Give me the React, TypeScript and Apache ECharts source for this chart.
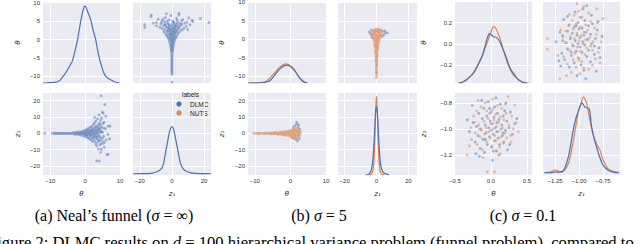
import React, { useEffect, useRef } from 'react';
import * as echarts from 'echarts';

const BLUE = '#4C72B0';
const ORANGE = '#DD8452';
const BG = '#EAEAF2';
const SANS = 'Liberation Sans, Arial, sans-serif';
const SERIF = 'Liberation Serif, Times New Roman, serif';
const TICK = '#333333';

// ---------- (a) Neal's funnel (sigma = inf) ----------
const kdeA_thetaX = [-12.1, -10, -8.5, -7.5, -6.9, -6.0, -5.1, -4.3, -3.6, -2.9, -2.2, -1.7, -1.2, -0.7, -0.3, 0.0, 0.3, 0.8, 1.6, 2.3, 3.06, 3.5, 4.0, 4.7, 5.4, 6.2, 7.3, 8.4, 9.8];
const kdeA_thetaD = [0.0, 0.004, 0.01, 0.025, 0.05, 0.1, 0.16, 0.22, 0.28, 0.4, 0.53, 0.66, 0.78, 0.88, 0.94, 0.95, 0.93, 0.87, 0.78, 0.65, 0.53, 0.42, 0.32, 0.21, 0.12, 0.07, 0.04, 0.015, 0.0];
const kdeA_zX = [-24.1, -18, -13, -9.3, -7.5, -6.2, -5.1, -4.1, -3.0, -2.1, -1.0, 0, 1.0, 2.0, 3.0, 4.1, 5.2, 6.2, 7.2, 9, 11.3, 15, 20, 24.3];
const kdeA_zD = [0.015, 0.016, 0.02, 0.04, 0.06, 0.085, 0.15, 0.26, 0.37, 0.47, 0.56, 0.59, 0.56, 0.47, 0.37, 0.26, 0.15, 0.1, 0.07, 0.045, 0.03, 0.02, 0.016, 0.015];
// [theta, z1]
const funnelDLMC: [number, number][] = [
  [-11.6, 0.0], [-9.4, 0.0], [-9.0, 0.01], [-8.7, -0.01], [-8.4, 0.02], [-8.1, -0.02], [-7.8, 0.01], [-7.5, -0.03],
  [-7.2, 0.03], [-6.9, -0.02], [-6.6, 0.04], [-6.3, -0.05], [-6.0, 0.05], [-5.7, -0.06], [-5.4, 0.07], [-5.1, -0.08],
  [-4.8, 0.1], [-4.5, -0.1], [-4.2, 0.12], [-3.9, -0.15], [-3.6, 0.18], [-3.4, 0.3], [-3.3, -0.2], [-3.2, -0.4],
  [-3.1, 0.1], [-3.0, 0.25], [-2.9, -0.2], [-2.8, -0.3], [-2.7, 0.5], [-2.6, 0.35], [-2.5, -0.6], [-2.4, 0.2],
  [-2.2, 0.8], [-2.1, -0.3], [-1.9, 0.6], [-1.8, -0.9], [-1.7, 0.1], [-1.5, 1.0], [-1.4, -0.5], [-1.3, 0.4],
  [-1.1, -1.2], [-1.0, 0.9], [-0.9, -0.1], [-0.8, 1.3], [-0.7, -0.8], [-0.6, 0.3], [-0.5, -1.5], [-0.4, 1.1],
  [-0.3, -0.4], [-0.2, 1.7], [-0.1, -1.0], [0.0, 0.5], [0.05, -1.9], [0.1, 1.4], [0.2, -0.2], [0.25, 2.1],
  [0.3, -1.3], [0.4, 0.8], [0.45, -2.4], [0.5, 1.9], [0.6, -0.7], [0.65, 2.6], [0.7, 0.1], [0.8, -1.8],
  [0.85, 1.2], [0.9, -2.9], [1.0, 0.6], [1.05, 3.1], [1.1, -0.9], [1.2, 2.0], [1.25, -3.4], [1.3, 0.0],
  [1.4, 1.6], [1.45, -2.1], [1.5, 3.7], [1.6, -1.1], [1.65, 0.9], [1.7, -4.0], [1.8, 2.6], [1.85, -0.4],
  [1.9, 4.4], [2.0, -2.7], [2.05, 1.3], [2.1, -5.0], [2.2, 3.3], [2.25, -1.5], [2.3, 0.5], [2.4, 5.3],
  [2.45, -3.6], [2.5, 2.0], [2.6, -0.8], [2.65, 6.4], [2.7, 9.8], [2.75, -4.8], [2.8, 1.0], [2.9, 3.9],
  [2.95, -2.3], [3.0, -6.3], [3.1, 7.5], [3.15, 0.2], [3.2, -3.1], [3.3, -16.9], [3.3, 4.8], [3.35, -7.6],
  [3.4, 2.4], [3.5, -1.4], [3.55, 8.9], [3.6, -5.4], [3.7, 3.2], [3.75, -9.6], [3.8, 0.7], [3.9, 6.0],
  [3.95, -3.9], [4.0, 11.2], [4.05, -17.0], [4.1, 1.8], [4.2, -7.0], [4.25, 5.0], [4.3, -1.9], [4.4, 7.9],
  [4.45, -11.6], [4.5, 3.0], [4.6, 23.0], [4.65, -9.7], [4.7, 9.3], [4.8, -4.6], [4.9, 13.0], [5.0, 0.5],
  [5.1, -6.2], [5.2, 12.5], [5.3, -1.8], [5.4, 6.8], [5.5, -8.5], [5.7, 17.7], [5.8, 2.9], [5.9, 10.5],
  [6.0, -4.0], [6.2, -13.0], [6.5, -0.6], [6.6, 4.3], [6.6, -12.8], [7.0, -3.4], [7.1, 4.4],
  [-0.8, 0.2], [-0.5, 0.6], [-0.2, -0.3], [0.1, 0.9], [0.3, 0.4], [0.5, -1.0], [0.7, 1.5], [0.9, 0.2],
  [1.1, -0.4], [1.2, 1.0], [1.4, -1.2], [1.5, 0.3], [1.7, 1.8], [1.8, -0.8], [2.0, 0.9], [2.1, 2.2],
  [2.2, -0.2], [2.3, -2.6], [2.4, 1.4], [2.5, -1.3], [2.6, 3.0], [2.7, 0.3], [2.8, -1.9], [2.9, 2.0],
  [3.0, -0.5], [3.1, 1.6], [3.2, 3.6], [3.3, -2.2], [3.4, 0.9], [3.5, -3.6], [3.6, 2.0], [3.7, -0.6],
  [3.8, 4.2], [3.9, -1.8], [4.0, 2.6], [4.1, -4.6], [4.2, 0.4], [4.3, 5.9], [4.4, -2.9], [4.5, 1.2],
  [4.6, -6.4], [4.7, 4.0], [4.8, 0.9], [5.0, -2.9], [5.1, 6.0], [5.3, 3.1], [5.5, -5.5], [-1.6, -0.4],
  [-1.2, 0.3], [-2.0, 0.1],
];

// ---------- (b) sigma = 5 ----------
const kdeB_thetaX_D = [-11.9, -9, -7.5, -6.6, -5.6, -4.7, -3.8, -2.8, -1.9, -1.1, -0.2, 0.6, 1.4, 2.1, 2.8, 3.5, 4.2, 4.8];
const kdeB_thetaD_D = [0.0, 0.002, 0.006, 0.012, 0.035, 0.08, 0.13, 0.18, 0.208, 0.22, 0.21, 0.18, 0.14, 0.095, 0.055, 0.025, 0.008, 0.0];
const kdeB_thetaX_N = [-11.9, -9, -7.5, -6.5, -5.6, -4.5, -3.3, -2.4, -1.4, -0.4, 0.4, 0.9, 1.6, 2.3, 3.0, 3.8, 4.4];
const kdeB_thetaD_N = [0.0, 0.003, 0.01, 0.03, 0.07, 0.12, 0.18, 0.215, 0.235, 0.225, 0.2, 0.18, 0.13, 0.08, 0.04, 0.01, 0.0];
const kdeB_zX_D = [-7, -5, -4, -3, -2.2, -1.5, -1, -0.5, 0, 0.5, 1, 1.5, 2.2, 3, 4, 5, 6.5, 8];
const kdeB_zD_D = [0.0, 0.01, 0.03, 0.08, 0.2, 0.4, 0.6, 0.78, 0.83, 0.78, 0.6, 0.4, 0.2, 0.09, 0.04, 0.02, 0.01, 0.0];
const kdeB_zX_N = [-5, -3.5, -2.5, -1.8, -1.2, -0.7, -0.3, 0, 0.3, 0.7, 1.2, 1.8, 2.5, 3.5, 5];
const kdeB_zD_N = [0.0, 0.01, 0.04, 0.12, 0.35, 0.65, 0.88, 0.96, 0.88, 0.65, 0.35, 0.12, 0.04, 0.01, 0.0];
const sigma5NUTS: [number, number][] = [
  [-10.4, 0.0], [-9.9, 0.02], [-9.3, -0.03], [-8.8, 0.04], [-8.4, -0.04], [-8.0, 0.06], [-7.6, -0.07], [-7.3, 0.08],
  [-7.0, -0.1], [-6.7, 0.12], [-6.4, -0.12], [-6.1, 0.15], [-5.9, -0.18], [-5.6, 0.2], [-5.4, -0.22], [-5.1, 0.25],
  [-4.9, -0.28], [-4.6, 0.3], [-4.4, -0.35], [-4.2, 0.38], [-4.0, -0.1], [-3.8, 0.45], [-3.6, -0.5], [-3.4, 0.2],
  [-3.2, -0.6], [-3.0, 0.65], [-2.9, -0.2], [-2.7, 0.4], [-2.5, -0.8], [-2.4, 0.9], [-2.2, -0.4], [-2.1, 0.1],
  [-1.9, 1.0], [-1.8, -1.0], [-1.6, 0.5], [-1.5, -0.3], [-1.3, 1.2], [-1.2, -1.3], [-1.0, 0.2], [-0.9, 1.4],
  [-0.8, -0.7], [-0.6, 0.8], [-0.5, -1.6], [-0.4, 1.6], [-0.2, -0.1], [-0.1, -1.1], [0.0, 1.9], [0.1, 0.6],
  [0.2, -2.0], [0.3, 1.0], [0.4, -0.6], [0.5, 2.3], [0.6, -2.4], [0.7, 0.3], [0.8, 1.5], [0.9, -1.4],
  [1.0, 2.8], [1.1, -0.2], [1.2, -2.9], [1.3, 1.1], [1.4, 3.2], [1.5, -1.8], [1.6, 0.6], [1.7, 2.2],
  [1.8, -3.3], [1.9, -0.6], [2.0, 3.6], [2.1, 1.4], [2.2, -2.3], [2.3, 0.2], [2.4, 2.7], [2.5, -1.2],
  [2.6, 1.5], [2.7, -0.3], [-1.1, 0.7], [-0.3, 0.4], [0.35, -1.0], [0.75, -0.3], [1.15, 0.5], [1.55, 1.7],
  [-1.7, 0.2], [-1.4, -0.6], [-0.7, 0.0], [-0.3, -0.5], [0.0, 0.3], [0.2, 0.8], [0.4, -1.4], [0.6, 1.2],
  [0.8, -0.4], [1.0, 0.4], [1.2, 1.9], [1.4, -0.8], [1.6, -2.6], [1.8, 1.2], [2.0, -1.3], [2.2, 0.7],
  [-2.3, 0.3], [-2.0, -0.5], [1.3, -1.1], [0.9, 2.0],
];
const sigma5DLMC: [number, number][] = [
  [-9.0, 0.0], [-7.0, 0.05], [-5.5, -0.15], [-4.5, 0.2], [-3.5, -0.3], [-2.5, 0.5], [-1.5, -0.8], [-0.5, 1.0],
  [0.3, -1.5], [0.8, 3.5], [1.0, -3.0], [1.2, 4.5], [1.4, -2.2], [1.5, -3.8], [1.7, 5.6], [1.8, 6.8],
  [1.9, 1.8], [2.0, -4.5], [2.2, 3.8], [2.3, 5.2], [2.4, -1.6], [2.5, -3.2], [2.6, 2.5], [2.7, 0.8],
  [0.5, -2.8], [1.1, 2.0], [2.1, -0.5],
];

// ---------- (c) sigma = 0.1 ----------
const kdeC_thetaX_D = [-0.45, -0.41, -0.35, -0.30, -0.25, -0.19, -0.13, -0.09, -0.06, -0.02, 0.01, 0.04, 0.07, 0.10, 0.14, 0.17, 0.21, 0.24, 0.28, 0.33, 0.38, 0.45, 0.50];
const kdeC_thetaD_D = [0.0, 0.005, 0.03, 0.07, 0.12, 0.21, 0.32, 0.43, 0.53, 0.61, 0.59, 0.57, 0.565, 0.54, 0.48, 0.41, 0.32, 0.24, 0.16, 0.1, 0.04, 0.005, 0.0];
const kdeC_thetaX_N = [-0.45, -0.40, -0.36, -0.32, -0.28, -0.24, -0.19, -0.13, -0.08, -0.04, 0.0, 0.04, 0.07, 0.10, 0.14, 0.17, 0.21, 0.25, 0.30, 0.36, 0.42, 0.47, 0.52];
const kdeC_thetaD_N = [0.0, 0.01, 0.03, 0.06, 0.085, 0.12, 0.2, 0.31, 0.43, 0.53, 0.63, 0.70, 0.67, 0.61, 0.51, 0.41, 0.3, 0.2, 0.11, 0.06, 0.02, 0.005, 0.0];
const kdeC_zX_D = [-1.36, -1.30, -1.25, -1.20, -1.16, -1.13, -1.10, -1.06, -1.03, -1.01, -0.985, -0.97, -0.95, -0.93, -0.91, -0.89, -0.87, -0.845, -0.82, -0.785, -0.75, -0.70, -0.66, -0.62, -0.59];
const kdeC_zD_D = [0.03, 0.03, 0.035, 0.035, 0.06, 0.14, 0.28, 0.55, 0.7, 0.77, 0.85, 0.88, 0.85, 0.82, 0.82, 0.79, 0.6, 0.46, 0.35, 0.22, 0.12, 0.06, 0.04, 0.03, 0.03];
const kdeC_zX_N = [-1.36, -1.30, -1.27, -1.25, -1.22, -1.19, -1.15, -1.11, -1.07, -1.04, -1.01, -0.99, -0.955, -0.92, -0.90, -0.88, -0.85, -0.82, -0.80, -0.78, -0.755, -0.73, -0.70, -0.66, -0.62, -0.58];
const kdeC_zD_N = [0.03, 0.035, 0.05, 0.06, 0.05, 0.035, 0.06, 0.14, 0.35, 0.55, 0.75, 0.83, 0.95, 0.87, 0.75, 0.63, 0.48, 0.39, 0.34, 0.3, 0.2, 0.14, 0.08, 0.05, 0.04, 0.03];
const sigma01DLMC: [number, number][] = [
  [-0.30, -1.02], [-0.25, -0.95], [-0.22, -1.10], [-0.20, -0.98], [-0.18, -1.05], [-0.17, -0.88], [-0.15, -1.15], [-0.14, -1.00],
  [-0.12, -0.92], [-0.11, -1.08], [-0.10, -0.84], [-0.09, -1.18], [-0.08, -0.97], [-0.07, -1.03], [-0.06, -0.90], [-0.05, -1.12],
  [-0.04, -0.79], [-0.03, -0.99], [-0.02, -1.06], [-0.01, -0.94], [0.00, -1.01], [0.00, -0.87], [0.01, -1.14], [0.02, -1.24],
  [0.02, -0.96], [0.03, -1.04], [0.04, -0.91], [0.05, -1.09], [0.05, -0.83], [0.06, -0.99], [0.07, -1.17], [0.08, -0.95],
  [0.08, -1.02], [0.09, -0.88], [0.10, -1.07], [0.11, -0.93], [0.12, -1.12], [0.13, -0.81], [0.14, -1.00], [0.15, -0.97],
  [0.16, -1.05], [0.17, -0.90], [0.18, -1.10], [0.19, -0.86], [0.20, -1.01], [0.22, -0.94], [0.23, -1.16], [0.25, -0.99],
  [0.27, -0.87], [0.30, -1.04], [0.33, -0.96], [-0.26, -0.82], [-0.21, -1.19], [-0.13, -0.78], [0.07, -0.76], [0.26, -1.12],
  [-0.16, -1.21], [0.11, -1.20], [-0.02, -0.84], [0.21, -0.80], [0.36, -0.92], [-0.33, -0.93], [0.03, -1.17], [-0.08, -1.08],
  [0.17, -1.03],
];
const sigma01NUTS: [number, number][] = [
  [-0.33, -1.20], [-0.28, -0.99], [-0.27, -1.08], [-0.24, -0.90], [-0.22, -1.03], [-0.20, -0.86], [-0.19, -1.12], [-0.17, -0.97],
  [-0.15, -1.06], [-0.14, -0.83], [-0.13, -1.01], [-0.12, -1.16], [-0.10, -0.94], [-0.09, -1.04], [-0.08, -0.80], [-0.07, -0.99],
  [-0.06, -1.10], [-0.05, -1.33], [-0.04, -0.92], [-0.03, -1.02], [-0.02, -0.88], [-0.01, -1.07], [0.00, -0.96], [0.01, -1.13],
  [0.02, -0.85], [0.03, -1.00], [0.04, -0.93], [0.05, -1.33], [0.05, -1.05], [0.06, -0.89], [0.07, -1.09], [0.08, -0.98],
  [0.09, -0.82], [0.10, -1.02], [0.11, -0.95], [0.12, -1.14], [0.13, -0.91], [0.14, -1.06], [0.15, -0.84], [0.16, -0.99],
  [0.17, -1.11], [0.18, -0.93], [0.19, -1.03], [0.21, -0.88], [0.22, -1.07], [0.24, -0.75], [0.25, -0.97], [0.27, -1.05],
  [0.29, -0.90], [0.31, -1.00], [0.33, -0.815], [0.35, -0.95], [0.38, -1.02], [-0.30, -1.13], [-0.18, -0.78], [-0.11, -1.22],
  [0.02, -0.77], [0.13, -1.19], [0.20, -0.81], [-0.23, -0.95], [0.08, -1.17], [-0.06, -0.86], [0.28, -1.10], [-0.16, -1.00],
];

type Range = [number, number];
interface Kde { color: string; x: number[]; d: number[] }
interface Scat { name: string; color: string; pts: [number, number][] }
interface Group {
  cols: [Range, Range];
  thX: Range; thY: Range; zX: Range; zY: Range;
  step: { thX: number; thY: number; zX: number; zY: number };
  dec: { thX: number; thY: number; zX: number; zY: number };
  yNameGap: number;
  kdeTh: Kde[]; kdeZ: Kde[]; scat: Scat[];
}

const ROWS: Range[] = [[2, 83], [93, 175]];

const groups: Group[] = [
  {
    cols: [[43, 120], [133, 211]],
    thX: [-12.1, 10], thY: [-11.8, 10.2], zX: [-24.2, 24.3], zY: [-25.5, 24.7],
    step: { thX: 10, thY: 5, zX: 20, zY: 10 }, dec: { thX: 0, thY: 0, zX: 0, zY: 0 },
    yNameGap: 22,
    kdeTh: [{ color: BLUE, x: kdeA_thetaX, d: kdeA_thetaD }],
    kdeZ: [{ color: BLUE, x: kdeA_zX, d: kdeA_zD }],
    scat: [{ name: 'DLMC', color: BLUE, pts: funnelDLMC }],
  },
  {
    cols: [[248, 326], [338, 417]],
    thX: [-11.9, 10], thY: [-11.8, 10.1], zX: [-24.2, 25.5], zY: [-25.5, 24.7],
    step: { thX: 10, thY: 5, zX: 20, zY: 10 }, dec: { thX: 0, thY: 0, zX: 0, zY: 0 },
    yNameGap: 23,
    kdeTh: [{ color: ORANGE, x: kdeB_thetaX_N, d: kdeB_thetaD_N }, { color: BLUE, x: kdeB_thetaX_D, d: kdeB_thetaD_D }],
    kdeZ: [{ color: ORANGE, x: kdeB_zX_N, d: kdeB_zD_N }, { color: BLUE, x: kdeB_zX_D, d: kdeB_zD_D }],
    scat: [{ name: 'DLMC', color: BLUE, pts: sigma5DLMC }, { name: 'NUTS', color: ORANGE, pts: sigma5NUTS }],
  },
  {
    cols: [[455, 532], [543, 620]],
    thX: [-0.5, 0.57], thY: [-0.37, 0.395], zX: [-1.375, -0.573], zY: [-1.354, -0.723],
    step: { thX: 0.5, thY: 0.2, zX: 0.25, zY: 0.2 }, dec: { thX: 1, thY: 1, zX: 2, zY: 1 },
    yNameGap: 28,
    kdeTh: [{ color: ORANGE, x: kdeC_thetaX_N, d: kdeC_thetaD_N }, { color: BLUE, x: kdeC_thetaX_D, d: kdeC_thetaD_D }],
    kdeZ: [{ color: ORANGE, x: kdeC_zX_N, d: kdeC_zD_N }, { color: BLUE, x: kdeC_zX_D, d: kdeC_zD_D }],
    scat: [{ name: 'DLMC', color: BLUE, pts: sigma01DLMC }, { name: 'NUTS', color: ORANGE, pts: sigma01NUTS }],
  },
];

function fmt(step: number, dec: number) {
  return (v: number) => {
    const k = Math.round(v / step);
    if (Math.abs(v - k * step) > Math.abs(step) * 1e-4) return '';
    let s = (k * step).toFixed(dec);
    if (s.startsWith('-')) {
      if (/^-0(\.0+)?$/.test(s)) s = s.slice(1);
      else s = '\u2212' + s.slice(1);
    }
    return s;
  };
}

function buildOption() {
  const grid: any[] = [];
  const xAxis: any[] = [];
  const yAxis: any[] = [];
  const series: any[] = [];

  const addGrid = (l: number, r: number, t: number, b: number) => {
    grid.push({
      left: l, top: t, width: r - l, height: b - t, show: true,
      backgroundColor: BG, borderWidth: 0, borderColor: 'transparent',
      containLabel: false, outerBoundsMode: 'none',
    });
    return grid.length - 1;
  };
  const axis = (gi: number, range: Range, step: number, dec: number, showLabel: boolean, name?: string, nameGap?: number) => ({
    type: 'value', gridIndex: gi, min: range[0], max: range[1],
    minInterval: step, maxInterval: step, splitNumber: 3,
    axisLine: { show: false }, axisTick: { show: false },
    splitLine: { show: true, showMinLine: false, showMaxLine: false, lineStyle: { color: '#ffffff', width: 1 } },
    axisLabel: { show: showLabel, formatter: fmt(step, dec), fontSize: 6, color: TICK, fontFamily: SANS, margin: 3 },
    name: name || '', nameLocation: 'middle', nameGap: nameGap || 10,
    nameTextStyle: { fontSize: 7, color: '#262626', fontFamily: 'DejaVu Sans, sans-serif', fontStyle: 'italic' },
  });
  const density = (gi: number) => ({ type: 'value', gridIndex: gi, min: 0, max: 1, show: false });

  groups.forEach((g) => {
    const [c0, c1] = g.cols;
    // TL: theta diag
    const tl = addGrid(c0[0], c0[1], ROWS[0][0], ROWS[0][1]);
    xAxis.push(axis(tl, g.thX, g.step.thX, g.dec.thX, false));
    const tlx = xAxis.length - 1;
    yAxis.push(axis(tl, g.thY, g.step.thY, g.dec.thY, true, '\u03b8', g.yNameGap));
    yAxis.push(density(tl));
    const tlyd = yAxis.length - 1;
    g.kdeTh.forEach((k) => series.push({
      type: 'line', xAxisIndex: tlx, yAxisIndex: tlyd, data: k.x.map((v, i) => [v, k.d[i]]),
      symbol: 'none', smooth: 0.3, silent: true, lineStyle: { color: k.color, width: 1.2 }, itemStyle: { color: k.color },
    }));
    // TR: scatter (x = z1, y = theta)
    const tr = addGrid(c1[0], c1[1], ROWS[0][0], ROWS[0][1]);
    xAxis.push(axis(tr, g.zX, g.step.zX, g.dec.zX, false));
    const trx = xAxis.length - 1;
    yAxis.push(axis(tr, g.thY, g.step.thY, g.dec.thY, false));
    const try_ = yAxis.length - 1;
    g.scat.forEach((s) => series.push({
      type: 'scatter', name: s.name, xAxisIndex: trx, yAxisIndex: try_, data: s.pts.map((p) => [p[1], p[0]]),
      symbolSize: 3, silent: true, itemStyle: { color: s.color, opacity: 0.5, borderColor: '#ffffff', borderWidth: 0.3 },
    }));
    // BL: scatter (x = theta, y = z1)
    const bl = addGrid(c0[0], c0[1], ROWS[1][0], ROWS[1][1]);
    xAxis.push(axis(bl, g.thX, g.step.thX, g.dec.thX, true, '\u03b8', 15));
    const blx = xAxis.length - 1;
    yAxis.push(axis(bl, g.zY, g.step.zY, g.dec.zY, true, 'z\u2081', g.yNameGap));
    const bly = yAxis.length - 1;
    g.scat.forEach((s) => series.push({
      type: 'scatter', name: s.name, xAxisIndex: blx, yAxisIndex: bly, data: s.pts.map((p) => [p[0], p[1]]),
      symbolSize: 3, silent: true, itemStyle: { color: s.color, opacity: 0.5, borderColor: '#ffffff', borderWidth: 0.3 },
    }));
    // BR: z1 diag
    const br = addGrid(c1[0], c1[1], ROWS[1][0], ROWS[1][1]);
    xAxis.push(axis(br, g.zX, g.step.zX, g.dec.zX, true, 'z\u2081', 15));
    const brx = xAxis.length - 1;
    yAxis.push(axis(br, g.zY, g.step.zY, g.dec.zY, false));
    yAxis.push(density(br));
    const bryd = yAxis.length - 1;
    g.kdeZ.forEach((k) => series.push({
      type: 'line', xAxisIndex: brx, yAxisIndex: bryd, data: k.x.map((v, i) => [v, k.d[i]]),
      symbol: 'none', smooth: 0.3, silent: true, lineStyle: { color: k.color, width: 1.2 }, itemStyle: { color: k.color },
    }));
  });

  const capStyle = (text: string) => ({
    text, fontSize: 16, fontFamily: SERIF, fill: '#000', align: 'center', verticalAlign: 'middle',
    rich: { i: { fontSize: 16, fontFamily: SERIF, fontStyle: 'italic', fill: '#000' } },
  });

  const graphic: any[] = [
    // legend of (a)
    { type: 'text', left: 182, top: 91, style: { text: 'labels', fontSize: 6.5, fontFamily: SANS, fill: '#262626' } },
    { type: 'circle', shape: { cx: 179, cy: 104, r: 2.6 }, style: { fill: BLUE } },
    { type: 'text', x: 190, y: 104, style: { text: 'DLMC', fontSize: 6.5, fontFamily: SANS, fill: '#262626', verticalAlign: 'middle' } },
    { type: 'circle', shape: { cx: 179, cy: 113, r: 2.6 }, style: { fill: ORANGE } },
    { type: 'text', x: 190, y: 113, style: { text: 'NUTS', fontSize: 6.5, fontFamily: SANS, fill: '#262626', verticalAlign: 'middle' } },
    // sub-captions
    { type: 'text', x: 114, y: 215.5, style: capStyle('(a) Neal\u2019s funnel ({i|\u03c3} = \u221e)') },
    { type: 'text', x: 319, y: 215.5, style: capStyle('(b) {i|\u03c3} = 5') },
    { type: 'text', x: 523, y: 215.5, style: capStyle('(c) {i|\u03c3} = 0.1') },
    {
      type: 'text', x: -12, y: 242,
      style: {
        text: 'Figure 2: DLMC results on {i|d} = 100 hierarchical variance problem (funnel problem), compared to',
        fontSize: 16.6, fontFamily: SERIF, fill: '#000', align: 'left', verticalAlign: 'middle',
        rich: { i: { fontSize: 16.6, fontFamily: SERIF, fontStyle: 'italic', fill: '#000' } },
      },
    },
  ];

  return { animation: false, backgroundColor: '#ffffff', grid, xAxis, yAxis, series, graphic };
}

export default function App() {
  const ref = useRef<HTMLDivElement>(null);
  useEffect(() => {
    if (!ref.current) return;
    const chart = echarts.init(ref.current, null, { renderer: 'svg' });
    chart.setOption(buildOption() as any);
    return () => chart.dispose();
  }, []);
  return <div ref={ref} style={{ position: 'absolute', left: 0, top: 0, width: 640, height: 244 }} />;
}
